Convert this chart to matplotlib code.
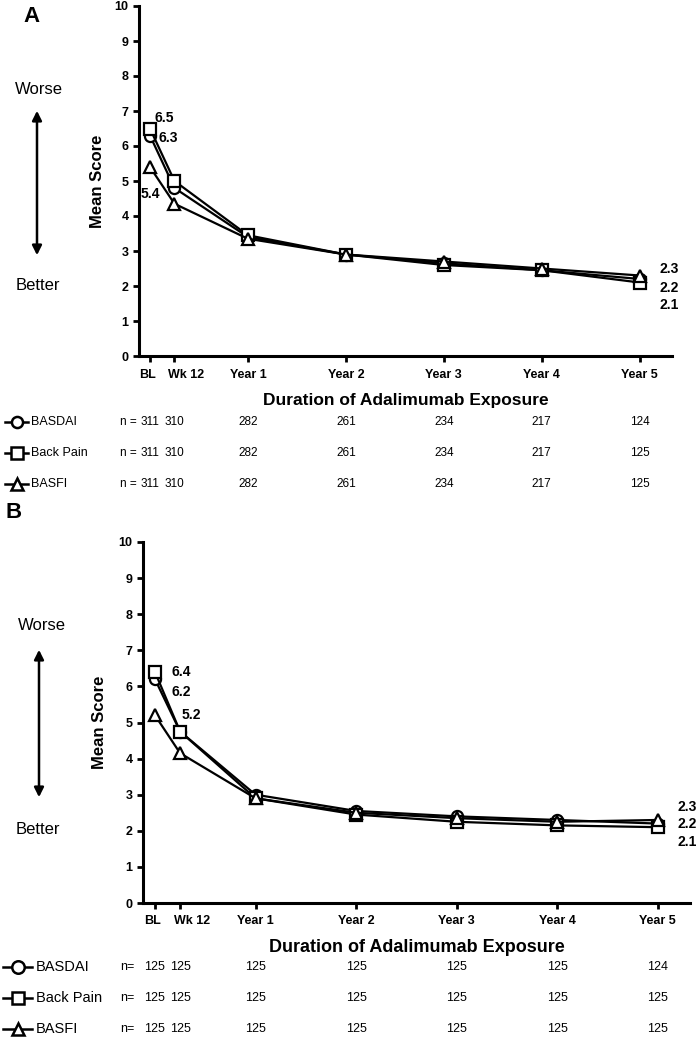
import matplotlib
matplotlib.use("Agg")
from matplotlib import pyplot as plt
from matplotlib.lines import Line2D
from matplotlib.transforms import blended_transform_factory, ScaledTranslation

plt.rcParams['font.family'] = ['Liberation Sans', 'DejaVu Sans']

FIG_W, FIG_H = 700, 1039

TIMEPOINTS = [0, 0.25, 1, 2, 3, 4, 5]
TICK_LABELS = ['BL', 'Wk 12', 'Year 1', 'Year 2', 'Year 3', 'Year 4', 'Year 5']
SERIES = ['BASDAI', 'Back Pain', 'BASFI']
MARKERS = ['o', 's', '^']

# panel A
A_BASDAI = [6.3, 4.8, 3.4, 2.9, 2.65, 2.45, 2.2]
A_BACK_PAIN = [6.5, 5.0, 3.45, 2.9, 2.6, 2.45, 2.1]
A_BASFI = [5.4, 4.35, 3.35, 2.9, 2.7, 2.5, 2.3]
A_N_BASDAI = [311, 310, 282, 261, 234, 217, 124]
A_N_BACK_PAIN = [311, 310, 282, 261, 234, 217, 125]
A_N_BASFI = [311, 310, 282, 261, 234, 217, 125]

# panel B
B_BASDAI = [6.2, 4.75, 3.0, 2.55, 2.4, 2.3, 2.2]
B_BACK_PAIN = [6.4, 4.75, 2.9, 2.45, 2.25, 2.15, 2.1]
B_BASFI = [5.2, 4.15, 2.9, 2.5, 2.35, 2.25, 2.3]
B_N_BASDAI = [125, 125, 125, 125, 125, 125, 124]
B_N_BACK_PAIN = [125, 125, 125, 125, 125, 125, 125]
B_N_BASFI = [125, 125, 125, 125, 125, 125, 125]


def fx(px):
    return px / FIG_W


def fy(py):
    return 1 - py / FIG_H


def pt(px):
    return px * 0.72


def draw_panel(fig, box, xlim, series, counts, bl_offsets, end_offsets, layout):
    left, top, right, bottom = box
    ax = fig.add_axes([fx(left), fy(bottom), fx(right) - fx(left), fy(top) - fy(bottom)])
    for values, marker in zip(series, MARKERS):
        ax.plot(TIMEPOINTS, values, color='black', lw=1.6, marker=marker, ms=8,
                mfc='white', mec='black', mew=1.6, clip_on=False)
    # value labels at baseline and year 5
    for values, (dx, dy) in zip(series, bl_offsets):
        ax.annotate(f'{values[0]:.1f}', (TIMEPOINTS[0], values[0]), xytext=(pt(dx), pt(-dy)),
                    textcoords='offset points', ha='left', va='center',
                    fontsize=10, fontweight='bold')
    for values, (dx, dy) in zip(series, end_offsets):
        ax.annotate(f'{values[-1]:.1f}', (TIMEPOINTS[-1], values[-1]), xytext=(pt(dx), pt(-dy)),
                    textcoords='offset points', ha='left', va='center',
                    fontsize=10, fontweight='bold')

    ax.set_xlim(*xlim)
    ax.set_ylim(0, 10)
    ax.set_yticks(range(11))
    ax.set_xticks(TIMEPOINTS)
    ax.set_xticklabels(TICK_LABELS)
    for s in ['top', 'right']:
        ax.spines[s].set_visible(False)
    for s in ['left', 'bottom']:
        ax.spines[s].set_linewidth(2.2)
    ax.tick_params(width=2, length=4, labelsize=9)
    ax.tick_params(axis='x', pad=5)
    for lab in ax.get_xticklabels() + ax.get_yticklabels():
        lab.set_fontweight('bold')
    # the first two labels sit close together, nudge them apart as in the original
    xl = ax.get_xticklabels()
    xl[0].set_transform(xl[0].get_transform() + ScaledTranslation(-2 / 100, 0, fig.dpi_scale_trans))
    xl[1].set_transform(xl[1].get_transform() + ScaledTranslation(12 / 100, 0, fig.dpi_scale_trans))

    height = bottom - top
    ax.set_ylabel('Mean Score', fontsize=12, fontweight='bold', va='center')
    ax.yaxis.set_label_coords((layout['ylabel_x'] - left) / (right - left), 0.5)
    ax.set_xlabel('Duration of Adalimumab Exposure', fontsize=layout['xlabel_size'],
                  fontweight='bold', va='center')
    ax.xaxis.set_label_coords(0.5, -(layout['xlabel_y'] - bottom) / height)

    # side annotations
    fig.text(fx(layout['letter'][0]), fy(layout['letter'][1]), layout['letter_text'],
             fontsize=16, fontweight='bold', ha='center', va='center')
    fig.text(fx(layout['worse'][0]), fy(layout['worse'][1]), 'Worse', fontsize=12,
             ha='center', va='center')
    fig.text(fx(layout['better'][0]), fy(layout['better'][1]), 'Better', fontsize=12,
             ha='center', va='center')
    ax_x, a_top, a_bot = layout['arrow']
    fig.add_artist(matplotlib.patches.FancyArrowPatch(
        (fx(ax_x), fy(a_top)), (fx(ax_x), fy(a_bot)), transform=fig.transFigure,
        arrowstyle='<|-|>', mutation_scale=14, lw=1.8, color='black'))

    # n table under the axis
    trans = blended_transform_factory(ax.transData, fig.transFigure)
    for name, marker, row_y, ns in zip(SERIES, MARKERS, layout['rows'], counts):
        l0, l1 = layout['line_x']
        fig.add_artist(Line2D([fx(l0), fx((l0 + l1) / 2), fx(l1)], [fy(row_y)] * 3,
                              transform=fig.transFigure, color='black', lw=1.8,
                              marker=marker, markevery=[1], ms=layout['leg_ms'],
                              mfc='white', mec='black', mew=1.8))
        fig.text(fx(layout['label_x']), fy(row_y), name, fontsize=layout['leg_size'],
                 ha='left', va='center')
        fig.text(fx(layout['n_x']), fy(row_y), layout['n_text'], fontsize=layout['num_size'],
                 ha='left', va='center')
        for t, n in zip(TIMEPOINTS, ns):
            ax.text(t, fy(row_y), str(n), transform=trans, fontsize=layout['num_size'],
                    ha='center', va='center')
    return ax


fig = plt.figure(figsize=(FIG_W / 100, FIG_H / 100), dpi=100)

draw_panel(
    fig, (139, 6, 672, 356), (-0.112, 5.33),
    [A_BASDAI, A_BACK_PAIN, A_BASFI],
    [A_N_BASDAI, A_N_BACK_PAIN, A_N_BASFI],
    bl_offsets=[(9, 2), (5, -11), (-9, 27)],
    end_offsets=[(20, 9), (20, 22.5), (20, -6.5)],
    layout=dict(ylabel_x=97, xlabel_y=400, xlabel_size=12.5, letter=(32, 16),
                letter_text='A', worse=(39, 89), better=(38, 286), arrow=(37, 108, 258),
                rows=[422, 453, 484], line_x=(5, 28), label_x=31, n_x=120,
                n_text='n =', leg_size=9, num_size=8.5, leg_ms=8),
)

draw_panel(
    fig, (143, 542, 690, 903), (-0.119, 5.32),
    [B_BASDAI, B_BACK_PAIN, B_BASFI],
    [B_N_BASDAI, B_N_BACK_PAIN, B_N_BASFI],
    bl_offsets=[(17, 13), (17, 0), (27, 0)],
    end_offsets=[(20, 0), (20, 15), (20, -13)],
    layout=dict(ylabel_x=100, xlabel_y=947, xlabel_size=13, letter=(14, 512),
                letter_text='B', worse=(42, 626), better=(38, 829), arrow=(39, 647, 800),
                rows=[967, 998, 1029], line_x=(3, 32), label_x=36, n_x=120,
                n_text='n=', leg_size=10.5, num_size=9, leg_ms=9),
)

fig.savefig('out.png', dpi=100)
